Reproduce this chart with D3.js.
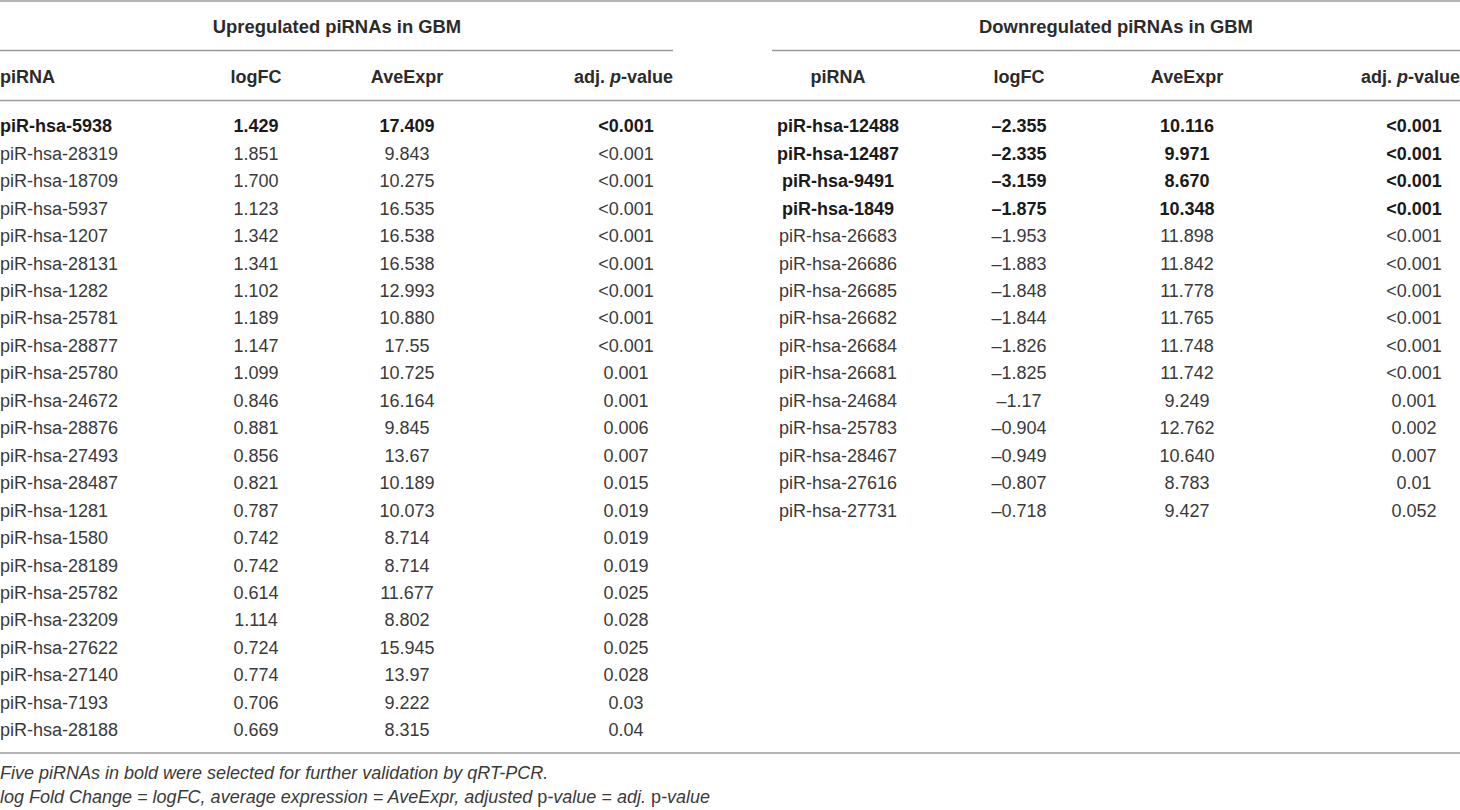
<!DOCTYPE html>
<html>
<head>
<meta charset="utf-8">
<script src="https://cdn.jsdelivr.net/npm/d3@7"></script>
<style>
  html, body { margin: 0; padding: 0; background: #fff; }
  svg { display: block; font-family: 'Liberation Sans', Arial, sans-serif; }
</style>
</head>
<body>
<div id="table"></div>
<script>
// upregulated piRNAs
const upNames = ['piR-hsa-5938', 'piR-hsa-28319', 'piR-hsa-18709', 'piR-hsa-5937', 'piR-hsa-1207', 'piR-hsa-28131',
  'piR-hsa-1282', 'piR-hsa-25781', 'piR-hsa-28877', 'piR-hsa-25780', 'piR-hsa-24672', 'piR-hsa-28876', 'piR-hsa-27493',
  'piR-hsa-28487', 'piR-hsa-1281', 'piR-hsa-1580', 'piR-hsa-28189', 'piR-hsa-25782', 'piR-hsa-23209', 'piR-hsa-27622',
  'piR-hsa-27140', 'piR-hsa-7193', 'piR-hsa-28188']
const upLogFC = ['1.429', '1.851', '1.700', '1.123', '1.342', '1.341', '1.102', '1.189', '1.147', '1.099', '0.846', '0.881',
  '0.856', '0.821', '0.787', '0.742', '0.742', '0.614', '1.114', '0.724', '0.774', '0.706', '0.669']
const upAveExpr = ['17.409', '9.843', '10.275', '16.535', '16.538', '16.538', '12.993', '10.880', '17.55', '10.725', '16.164',
  '9.845', '13.67', '10.189', '10.073', '8.714', '8.714', '11.677', '8.802', '15.945', '13.97', '9.222', '8.315']
const upPval = ['<0.001', '<0.001', '<0.001', '<0.001', '<0.001', '<0.001', '<0.001', '<0.001', '<0.001', '0.001', '0.001',
  '0.006', '0.007', '0.015', '0.019', '0.019', '0.019', '0.025', '0.028', '0.025', '0.028', '0.03', '0.04']
const upBold = ['piR-hsa-5938']

// downregulated piRNAs
const downNames = ['piR-hsa-12488', 'piR-hsa-12487', 'piR-hsa-9491', 'piR-hsa-1849', 'piR-hsa-26683', 'piR-hsa-26686',
  'piR-hsa-26685', 'piR-hsa-26682', 'piR-hsa-26684', 'piR-hsa-26681', 'piR-hsa-24684', 'piR-hsa-25783', 'piR-hsa-28467',
  'piR-hsa-27616', 'piR-hsa-27731']
const downLogFC = ['–2.355', '–2.335', '–3.159', '–1.875', '–1.953', '–1.883', '–1.848', '–1.844', '–1.826', '–1.825',
  '–1.17', '–0.904', '–0.949', '–0.807', '–0.718']
const downAveExpr = ['10.116', '9.971', '8.670', '10.348', '11.898', '11.842', '11.778', '11.765', '11.748', '11.742',
  '9.249', '12.762', '10.640', '8.783', '9.427']
const downPval = ['<0.001', '<0.001', '<0.001', '<0.001', '<0.001', '<0.001', '<0.001', '<0.001', '<0.001', '<0.001',
  '0.001', '0.002', '0.007', '0.01', '0.052']
const downBold = ['piR-hsa-12488', 'piR-hsa-12487', 'piR-hsa-9491', 'piR-hsa-1849']

const width = 1460
const height = 810
const ruleColor = '#9a9a9a'
const textColor = '#2b2b2b'
const nRows = upNames.length

const svg = d3.select('#table').append('svg')
    .attr('width', width)
    .attr('height', height)

// row scale: one slot per data row
const y = d3.scalePoint()
    .domain(d3.range(nRows))
    .range([126, 730])

const rule = (x1, x2, yy) => svg.append('line')
    .attr('x1', x1).attr('x2', x2)
    .attr('y1', yy).attr('y2', yy)
    .attr('stroke', ruleColor)
    .attr('stroke-width', 1.4)

rule(0, width, 1)
rule(0, 673, 50.5)
rule(772, width, 50.5)
rule(0, width, 100.5)
rule(0, width, 753)

const panels = [
  {
    title: 'Upregulated piRNAs in GBM', titleX: 337,
    names: upNames, bold: upBold,
    cols: [upNames, upLogFC, upAveExpr, upPval],
    x: [0, 256, 407, 626], anchor: ['start', 'middle', 'middle', 'middle'],
    headX: [0, 256, 407, 673], headAnchor: ['start', 'middle', 'middle', 'end'],
  },
  {
    title: 'Downregulated piRNAs in GBM', titleX: 1116,
    names: downNames, bold: downBold,
    cols: [downNames, downLogFC, downAveExpr, downPval],
    x: [838, 1019, 1187, 1414], anchor: ['middle', 'middle', 'middle', 'middle'],
    headX: [838, 1019, 1187, 1460], headAnchor: ['middle', 'middle', 'middle', 'end'],
  },
]

const headers = ['piRNA', 'logFC', 'AveExpr', null]

panels.forEach(p => {
  svg.append('text')
      .attr('x', p.titleX)
      .attr('y', 27)
      .attr('dy', '0.35em')
      .attr('text-anchor', 'middle')
      .style('font-size', '18.4px')
      .style('font-weight', 'bold')
      .style('fill', textColor)
      .text(p.title)

  headers.forEach((hd, j) => {
    const t = svg.append('text')
        .attr('x', p.headX[j])
        .attr('y', 77)
        .attr('dy', '0.35em')
        .attr('text-anchor', p.headAnchor[j])
        .style('font-size', '18px')
        .style('font-weight', 'bold')
        .style('fill', textColor)
    if (hd) {
      t.text(hd)
    } else {
      t.append('tspan').text('adj. ')
      t.append('tspan').style('font-style', 'italic').text('p')
      t.append('tspan').text('-value')
    }
  })

  p.cols.forEach((col, j) => {
    svg.append('g')
      .selectAll('text')
      .data(col)
      .join('text')
        .attr('x', p.x[j])
        .attr('y', (d, i) => y(i))
        .attr('dy', '0.35em')
        .attr('text-anchor', p.anchor[j])
        .style('font-size', '18px')
        .style('font-weight', (d, i) => p.bold.includes(p.names[i]) ? 'bold' : 'normal')
        .style('fill', (d, i) => p.bold.includes(p.names[i]) ? '#1a1a1a' : '#3a3a3a')
        .text(d => d)
  })
})

// footnotes
svg.append('text')
    .attr('x', 0)
    .attr('y', 773)
    .attr('dy', '0.35em')
    .style('font-size', '18px')
    .style('font-style', 'italic')
    .style('fill', '#3a3a3a')
    .text('Five piRNAs in bold were selected for further validation by qRT-PCR.')

const note = svg.append('text')
    .attr('x', 0)
    .attr('y', 797)
    .attr('dy', '0.35em')
    .style('font-size', '18px')
    .style('fill', '#3a3a3a')
note.append('tspan').style('font-style', 'italic').text('log Fold Change = logFC, average expression = AveExpr, adjusted ')
note.append('tspan').text('p')
note.append('tspan').style('font-style', 'italic').text('-value = adj. ')
note.append('tspan').text('p')
note.append('tspan').style('font-style', 'italic').text('-value')
</script>
</body>
</html>
